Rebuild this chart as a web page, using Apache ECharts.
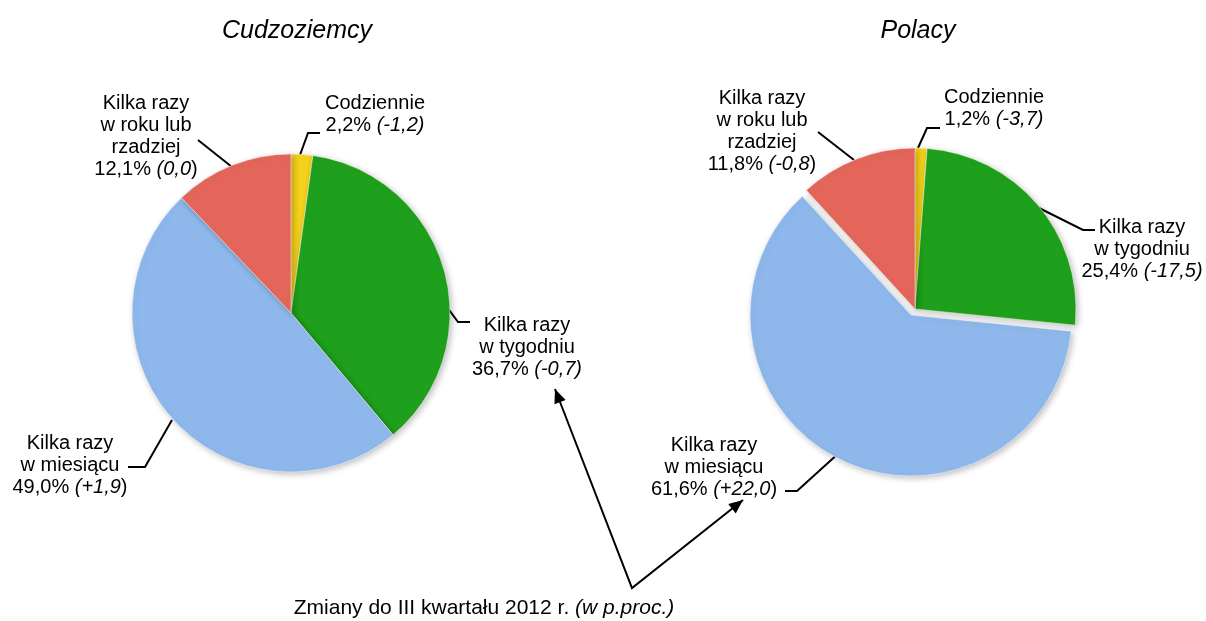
<!DOCTYPE html>
<html>
<head>
<meta charset="utf-8">
<script src="https://cdn.jsdelivr.net/npm/echarts@6/dist/echarts.min.js"></script>
<style>
  html, body { margin: 0; background: #fff; }
  #mycharts { width: 1206px; height: 621px; }
</style>
</head>
<body>
<div id="mycharts"></div>
<script>
// dane
var categories = ["Codziennie", "Kilka razy\nw tygodniu", "Kilka razy\nw miesiącu", "Kilka razy\nw roku lub\nrzadziej"];
var foreigners = [2.2, 36.7, 49.0, 12.1];
var foreignersChange = [-1.2, -0.7, 1.9, 0.0];
var poles = [1.2, 25.4, 61.6, 11.8];
var polesChange = [-3.7, -17.5, 22.0, -0.8];
var uprightClose = [false, false, true, true];

var colors = ["#F5D21B", "#1FA01C", "#8EB8EB", "#E4665A"];
var font = "'Liberation Sans', Arial, sans-serif";

// polozenie etykiet i linii
var leftLabels = [[375, 114], [527, 347], [70, 465], [146, 136]];
var leftLines = [
  [[300, 155], [308, 133], [320, 133]],
  [[436, 292], [458, 322], [470, 322]],
  [[172, 420], [145, 467], [128, 467]],
  [[232, 167], [198, 140], [198, 140]]
];
var rightLabels = [[994, 108], [1142, 249], [714, 467], [762, 131]];
var rightLines = [
  [[918, 148], [927, 128], [940, 128]],
  [[1033, 205], [1083, 230], [1095, 230]],
  [[840, 452], [797, 491], [785, 491]],
  [[854, 160], [818, 132], [818, 132]]
];

function fmt(v) {
  return v.toFixed(1).replace(".", ",");
}
function fmtChange(v) {
  return v > 0 ? "+" + fmt(v) : fmt(v);
}

var shadowStyle = {
  borderColor: "rgba(255,255,255,0.45)",
  borderWidth: 1,
  shadowBlur: 6,
  shadowOffsetX: 2,
  shadowOffsetY: 2,
  shadowColor: "rgba(0,0,0,0.25)"
};
var hiddenStyle = { color: "rgba(0,0,0,0)", borderWidth: 0, shadowBlur: 0, shadowColor: "rgba(0,0,0,0)" };

// hide = indeks wycinka rysowanego w osobnej (wysunietej) warstwie
function makeData(values, hide) {
  return values.map(function (v, i) {
    return {
      name: categories[i],
      value: v,
      itemStyle: i === hide ? hiddenStyle : { color: colors[i] }
    };
  });
}

function labelFormatter(changes) {
  return function (p) {
    var i = p.dataIndex;
    var ch = "(" + fmtChange(changes[i]);
    var tail = uprightClose[i] ? "{i|" + ch + "})" : "{i|" + ch + ")}";
    return p.name + "\n" + fmt(p.value) + "% " + tail;
  };
}

function makeSeries(values, changes, center, radius, labels, lines, hide) {
  return {
    type: "pie",
    center: center,
    radius: radius,
    startAngle: 90,
    clockwise: true,
    avoidLabelOverlap: false,
    silent: true,
    emphasis: { disabled: true },
    itemStyle: shadowStyle,
    label: {
      show: true,
      position: "outside",
      color: "#000",
      fontFamily: font,
      fontSize: 20,
      lineHeight: 22,
      align: "center",
      formatter: labelFormatter(changes),
      rich: {
        i: { fontStyle: "italic", fontFamily: font, fontSize: 20, lineHeight: 22, color: "#000" }
      }
    },
    labelLine: {
      show: true,
      length: 15,
      length2: 10,
      lineStyle: { color: "#000", width: 2 }
    },
    labelLayout: function (params) {
      var i = params.dataIndex;
      return {
        x: labels[i][0],
        y: labels[i][1],
        align: "center",
        verticalAlign: "middle",
        labelLinePoints: lines[i]
      };
    },
    data: makeData(values, hide)
  };
}

// warstwa z wysunietym wycinkiem (te same dane, widoczny tylko jeden wycinek)
function makeExplodedLayer(values, center, radius, show) {
  return {
    type: "pie",
    center: center,
    radius: radius,
    startAngle: 90,
    clockwise: true,
    silent: true,
    emphasis: { disabled: true },
    itemStyle: shadowStyle,
    label: { show: false },
    labelLine: { show: false },
    data: values.map(function (v, i) {
      return {
        name: categories[i],
        value: v,
        itemStyle: i === show ? { color: colors[i] } : hiddenStyle
      };
    })
  };
}

// strzalki do podpisu na dole
var arrowApex = [632, 588];
var arrowTips = [[555, 389], [743, 500]];

function arrowHead(from, to) {
  var dx = to[0] - from[0], dy = to[1] - from[1];
  var len = Math.sqrt(dx * dx + dy * dy);
  var ux = dx / len, uy = dy / len;
  var L = 14, W = 6;
  var bx = to[0] - ux * L, by = to[1] - uy * L;
  return {
    type: "polygon",
    shape: { points: [to, [bx - uy * W, by + ux * W], [bx + uy * W, by - ux * W]] },
    style: { fill: "#000" },
    silent: true
  };
}

var myCharts = echarts.init(document.getElementById("mycharts"));

var titleStyle = { fontFamily: font, fontSize: 25, fontStyle: "italic", fontWeight: "normal", color: "#000" };

var option = {
  animation: false,
  backgroundColor: "#fff",
  title: [
    { text: "Cudzoziemcy", left: 292, top: 14, textAlign: "center", textStyle: titleStyle },
    { text: "Polacy", left: 913, top: 14, textAlign: "center", textStyle: titleStyle }
  ],
  graphic: [
    {
      type: "polyline",
      shape: { points: [arrowTips[0], arrowApex, arrowTips[1]] },
      style: { stroke: "#000", lineWidth: 2, fill: null },
      silent: true
    },
    arrowHead(arrowApex, arrowTips[0]),
    arrowHead(arrowApex, arrowTips[1]),
    {
      type: "text",
      x: 484,
      y: 608,
      style: {
        text: "Zmiany do III kwartału 2012 r. {i|(w p.proc.)}",
        fontFamily: font,
        fontSize: 21,
        fill: "#000",
        align: "center",
        verticalAlign: "middle",
        rich: {
          i: { fontStyle: "italic", fontFamily: font, fontSize: 21, fill: "#000" }
        }
      },
      silent: true
    }
  ],
  series: [
    makeSeries(foreigners, foreignersChange, [291, 313], 159, leftLabels, leftLines, -1),
    makeSeries(poles, polesChange, [915, 309], 161, rightLabels, rightLines, 2),
    makeExplodedLayer(poles, [911, 315], 161, 2)
  ]
};

myCharts.setOption(option);
</script>
</body>
</html>
